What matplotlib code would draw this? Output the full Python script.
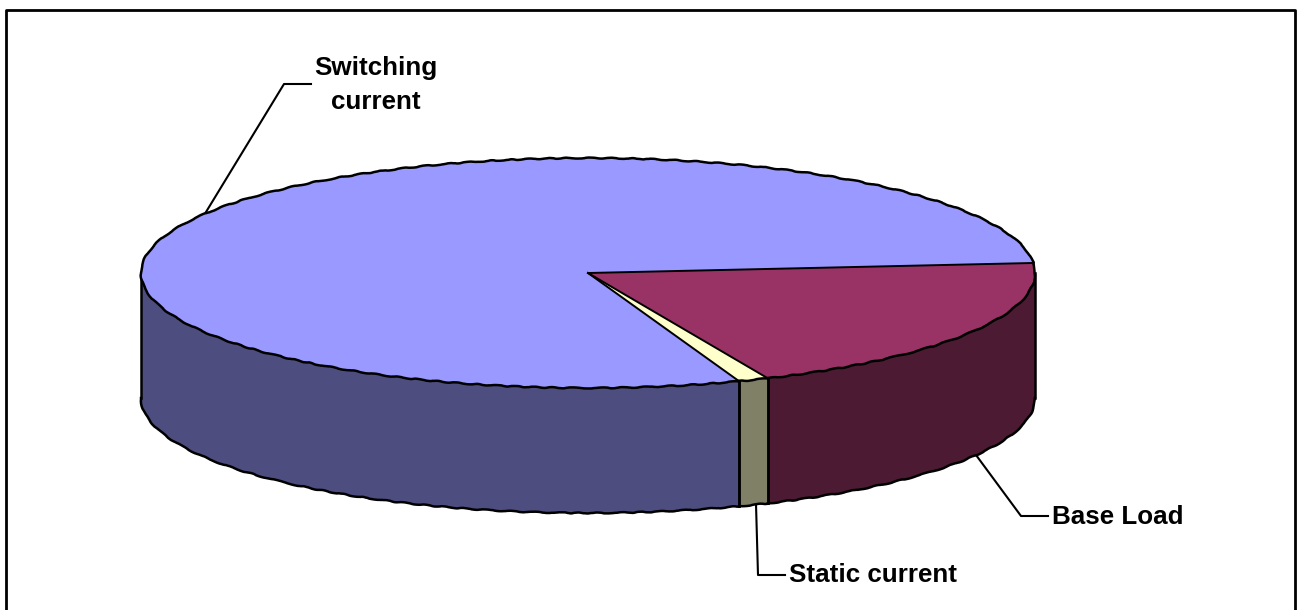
import matplotlib
matplotlib.use('Agg')
import matplotlib.pyplot as plt
import numpy as np

labels = ['Base Load', 'Static current', 'Switching\ncurrent']
values = [19.8, 1.1, 79.1]
top_colors = ['#993366', '#FFFFCC', '#9999FF']
side_colors = ['#4D1A33', '#808066', '#4D4D80']

start_angle = 5
cx, cy, rx, ry = 588, 273, 447, 115
depth = 125

plt.rcParams['font.family'] = ['Liberation Sans', 'DejaVu Sans']

fig = plt.figure(figsize=(12.97, 6.10), dpi=100)
ax = fig.add_axes([0, 0, 1, 1])
ax.set_xlim(0, 1297)
ax.set_ylim(610, 0)
ax.axis('off')

# outer chart border, bottom edge runs off the canvas
ax.plot([6, 6, 1295, 1295], [620, 10, 10, 620], color='black', lw=2)


def arc(a, b, dy=0):
    t = np.radians(np.linspace(a, b, max(int(abs(b - a)), 2) + 1))
    return cx + rx * np.cos(t), cy - ry * np.sin(t) + dy


def rim(x, y, zorder):
    # curved edges are slightly uneven
    line = ax.plot(x, y, color='black', lw=1.8, zorder=zorder)[0]
    line.set_sketch_params(0.5, 26, 3)


# slice angles run clockwise from the start angle
edges = start_angle - 360 * np.cumsum([0] + values) / sum(values)

# side walls only where a slice faces the front
for i in range(len(values)):
    a, b = edges[i], edges[i + 1]
    a2, b2 = min(a, 0), max(b, -180)
    if a2 <= b2:
        continue
    x1, y1 = arc(a2, b2)
    x2, y2 = arc(b2, a2, depth)
    ax.fill(np.r_[x1, x2], np.r_[y1, y2], facecolor=side_colors[i],
            edgecolor='none', zorder=2)
    rim(x2, y2, 3)
    ax.plot([x1[0], x1[0]], [y1[0], y1[0] + depth], color='black', lw=1.8, zorder=3)
    ax.plot([x1[-1], x1[-1]], [y1[-1], y1[-1] + depth], color='black', lw=1.8, zorder=3)

# top faces
for i in range(len(values)):
    x, y = arc(edges[i], edges[i + 1])
    ax.fill(np.r_[cx, x], np.r_[cy, y], facecolor=top_colors[i],
            edgecolor='none', zorder=4)
    # straight radius lines
    ax.plot([cx, x[0]], [cy, y[0]], color='black', lw=1.4, zorder=5)
    rim(x, y, 6)

# leader lines and labels
ax.plot([206, 284, 311], [212, 84, 84], color='black', lw=1.5, zorder=1)
ax.plot([976, 1021, 1048], [455, 516, 516], color='black', lw=1.5, zorder=1)
ax.plot([756, 758, 785], [504, 575, 575], color='black', lw=1.5, zorder=1)

ax.text(376, 85, labels[2], ha='center', va='center', fontsize=18.7,
        fontweight='bold', linespacing=1.55)
ax.text(1052, 517, labels[0], ha='left', va='center', fontsize=18.7,
        fontweight='bold')
ax.text(789, 575, labels[1], ha='left', va='center', fontsize=18.7,
        fontweight='bold')

fig.savefig('out.png', dpi=100, facecolor='white')
